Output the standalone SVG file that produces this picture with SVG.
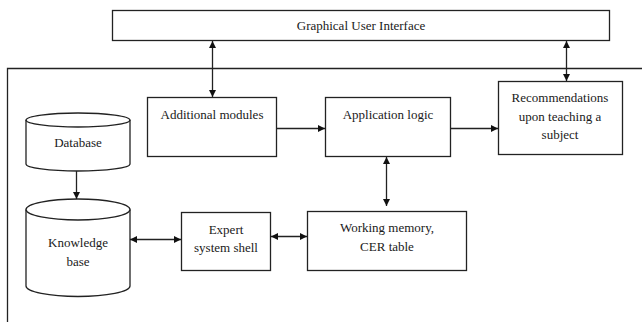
<svg xmlns="http://www.w3.org/2000/svg" width="642" height="322" viewBox="0 0 642 322">
<defs>
<marker id="ah" viewBox="0 0 10 10" refX="10" refY="5" markerWidth="7" markerHeight="7" markerUnits="userSpaceOnUse" orient="auto-start-reverse">
<path d="M0,0 L10,5 L0,10 z" fill="#111"/>
</marker>
<style>
.b{fill:#fff;stroke:#222;stroke-width:1.3}
.t{font-family:'Liberation Serif','Times New Roman','DejaVu Serif',serif;font-size:13px;fill:#1a1a1a;text-anchor:middle}
.c{stroke:#222;stroke-width:1.3;fill:none}
</style>
</defs>
<rect width="642" height="322" fill="#fff"/>
<g id="frame"><path class="c" d="M642,68.5 H7.5 V322"/></g>
<g id="gui"><rect class="b" x="112.5" y="10.5" width="497" height="30"/><text class="t" x="361" y="30" font-family="Liberation Serif, serif">Graphical User Interface</text></g>
<g id="additional"><rect class="b" x="147.5" y="97.5" width="129" height="59"/><text class="t" x="212" y="119" font-family="Liberation Serif, serif">Additional modules</text></g>
<g id="applogic"><rect class="b" x="325.5" y="97.5" width="125" height="59"/><text class="t" x="388" y="119" font-family="Liberation Serif, serif">Application logic</text></g>
<g id="recommend"><rect class="b" x="498.5" y="81.5" width="124" height="73"/><text class="t" x="560" y="102" font-family="Liberation Serif, serif">Recommendations</text><text class="t" x="560" y="121" font-family="Liberation Serif, serif">upon teaching a</text><text class="t" x="560" y="139" font-family="Liberation Serif, serif">subject</text></g>
<g id="database"><path class="b" d="M26,120 A52,7 0 0 1 130,120 V164 A52,7 0 0 1 26,164 Z"/><path class="c" d="M26,120 A52,7 0 0 0 130,120"/><text class="t" x="78" y="147" font-family="Liberation Serif, serif">Database</text></g>
<g id="knowledge"><path class="b" d="M26,209.5 A52,10.5 0 0 1 130,209.5 V286 A52,10.5 0 0 1 26,286 Z"/><path class="c" d="M26,209.5 A52,10.5 0 0 0 130,209.5"/><text class="t" x="78" y="247" font-family="Liberation Serif, serif">Knowledge</text><text class="t" x="78" y="266" font-family="Liberation Serif, serif">base</text></g>
<g id="expert"><rect class="b" x="181.5" y="212.5" width="89" height="58"/><text class="t" x="226" y="234" font-family="Liberation Serif, serif">Expert</text><text class="t" x="226" y="252" font-family="Liberation Serif, serif">system shell</text></g>
<g id="workmem"><rect class="b" x="307.5" y="211.5" width="159" height="59"/><text class="t" x="387" y="232" font-family="Liberation Serif, serif">Working memory,</text><text class="t" x="387" y="251" font-family="Liberation Serif, serif">CER table</text></g>
<g id="connectors">
<line class="c" x1="212.5" y1="41" x2="212.5" y2="97" marker-start="url(#ah)" marker-end="url(#ah)"/>
<line class="c" x1="566.5" y1="41" x2="566.5" y2="81" marker-start="url(#ah)" marker-end="url(#ah)"/>
<line class="c" x1="277" y1="128.5" x2="325" y2="128.5" marker-end="url(#ah)"/>
<line class="c" x1="451" y1="128.5" x2="498" y2="128.5" marker-end="url(#ah)"/>
<line class="c" x1="386.5" y1="157" x2="386.5" y2="206" marker-start="url(#ah)" marker-end="url(#ah)"/>
<line class="c" x1="76.5" y1="171" x2="76.5" y2="199" marker-end="url(#ah)"/>
<line class="c" x1="130" y1="239.5" x2="181" y2="239.5" marker-start="url(#ah)" marker-end="url(#ah)"/>
<line class="c" x1="271" y1="236.5" x2="307" y2="236.5" marker-start="url(#ah)" marker-end="url(#ah)"/>
</g>
</svg>
